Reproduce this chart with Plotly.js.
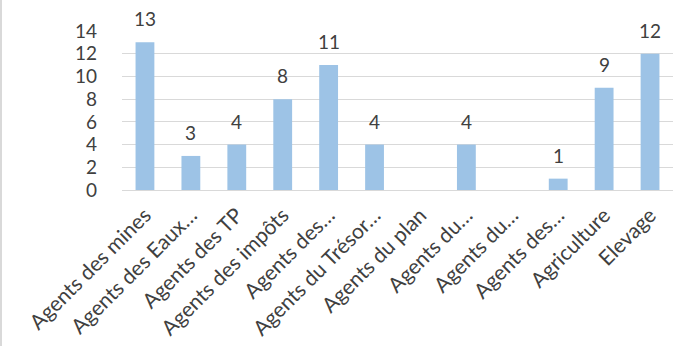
<!DOCTYPE html>
<html><head><meta charset="utf-8">
<script src="https://cdn.plot.ly/plotly-3.0.1.min.js"></script>
<style>html,body{margin:0;padding:0;background:#fff}#wrap{position:relative;width:687px;height:346px}#chart{width:687px;height:346px}#edge{position:absolute;left:0;top:0;width:2px;height:346px;background:#d9d9d9}</style>
</head><body><div id="wrap"><div id="chart"></div><div id="edge"></div></div>
<script>
const categories = ["Agents des mines","Agents des Eaux…","Agents des TP","Agents des impôts","Agents des…","Agents du Trésor…","Agents du plan","Agents du…","Agents du…","Agents des…","Agriculture","Elevage"];
const values = [13,3,4,8,11,4,null,4,null,1,9,12];
const yTicks = [0,2,4,6,8,10,12,14];

const xIdx = categories.map((c,i)=>i);
const font = "Lato, 'Open Sans', sans-serif";
const trace = {
  type:'bar', x:xIdx, y:values,
  marker:{color:'#9dc3e6'},
  hoverinfo:'none'
};
const annotations = values.map((v,i)=> v==null?null:({
  x:i, y:v, xref:'x', yref:'y', text:String(v), showarrow:false,
  yanchor:'bottom', yshift:10, font:{family:font,size:19,color:'#404040'}
})).filter(a=>a);
const layout = {
  width:687, height:346,
  margin:{l:122,r:14,t:31,b:156},
  paper_bgcolor:'#fff', plot_bgcolor:'#fff',
  bargap:0.59, showlegend:false,
  xaxis:{tickmode:'array', tickvals:xIdx, ticktext:categories, tickangle:-45,
    range:[-0.5,11.5], showgrid:false, zeroline:false, showline:false,
    ticklabelstandoff:8,
    tickfont:{family:font,size:21,color:'#404040'}},
  yaxis:{range:[0,14], tickmode:'array', tickvals:yTicks, showgrid:true,
    gridcolor:'#d9d9d9', gridwidth:1, zeroline:true, zerolinecolor:'#d9d9d9',
    showline:false, ticklabelstandoff:24,
    tickfont:{family:font,size:19,color:'#404040'}},
  annotations:annotations
};
Plotly.newPlot('chart',[trace],layout,{displayModeBar:false,staticPlot:true});
</script></body></html>
